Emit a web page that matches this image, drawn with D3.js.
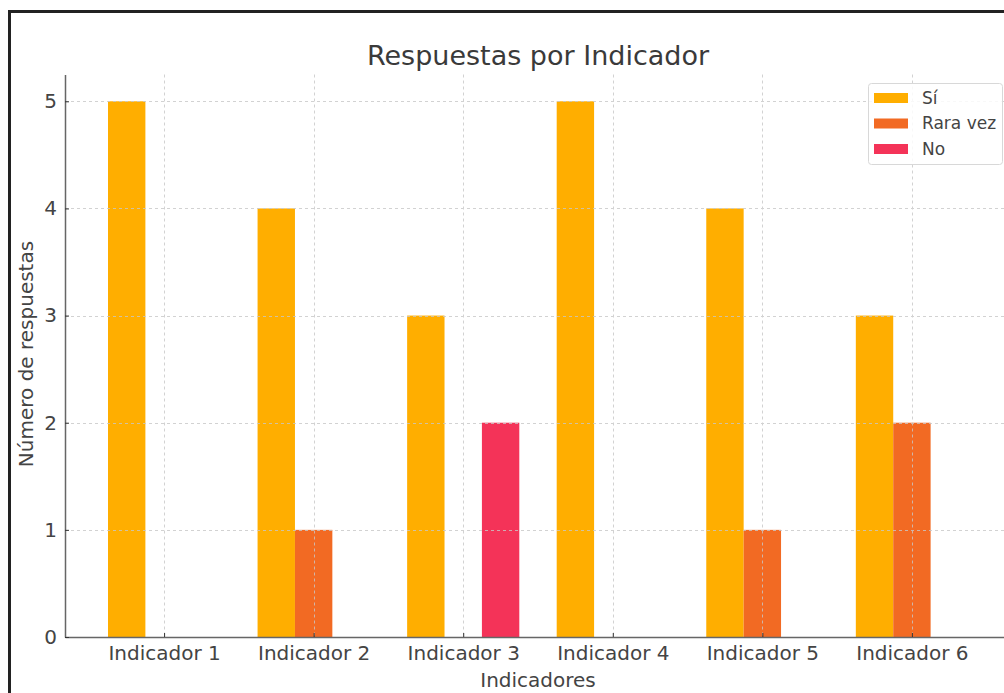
<!DOCTYPE html>
<html>
<head>
<meta charset="utf-8">
<script src="https://cdn.jsdelivr.net/npm/d3@7"></script>
<style>
  html, body { margin: 0; padding: 0; background: #fff; }
  svg { display: block; font-family: "DejaVu Sans", sans-serif; }
</style>
</head>
<body>
<svg id="chart" width="1004" height="693"></svg>
<script>
const categories = ["Indicador 1", "Indicador 2", "Indicador 3", "Indicador 4", "Indicador 5", "Indicador 6"];
const seriesNames = ["Sí", "Rara vez", "No"];
const siValues = [5, 4, 3, 5, 4, 3];
const raraVezValues = [0, 1, 0, 0, 1, 2];
const noValues = [0, 0, 2, 0, 0, 0];
const yTicks = [0, 1, 2, 3, 4, 5];
const seriesColors = ["#FFAE00", "#F26A23", "#F43358"];

(function () {
const series = [siValues, raraVezValues, noValues].map((vals, s) => ({
  name: seriesNames[s], color: seriesColors[s], offset: (s - 1) * 0.25,
  values: vals
}));

const svg = d3.select("#chart");
const W = 1004, H = 693;

svg.append("rect").attr("width", W).attr("height", H).attr("fill", "#fff");
// outer frame of the screenshot
svg.append("rect").attr("x", 9.5).attr("y", 11.5).attr("width", 1100).attr("height", 800)
  .attr("fill", "none").attr("stroke", "#222").attr("stroke-width", 3);

const pLeft = 65, pRight = 1011, pTop = 74.5, pBottom = 637;
const x = d3.scaleLinear().domain([-0.6625, 5.6625]).range([pLeft, pRight]);
const y = d3.scaleLinear().domain([0, 5.25]).range([pBottom, pTop]);
const barW = 0.25;

// bars
series.forEach(s => {
  svg.append("g").selectAll("rect").data(s.values).join("rect")
    .attr("x", (d, i) => x(i + s.offset - barW / 2))
    .attr("width", (d, i) => x(i + s.offset + barW / 2) - x(i + s.offset - barW / 2))
    .attr("y", d => y(d))
    .attr("height", d => y(0) - y(d))
    .attr("fill", s.color);
});

// grid
const grid = svg.append("g").attr("stroke", "#c8c8c8").attr("stroke-width", 1)
  .attr("stroke-dasharray", "3,3").attr("opacity", 0.8);
grid.selectAll("line.h").data(yTicks).join("line").attr("class", "h")
  .attr("x1", pLeft).attr("x2", pRight).attr("y1", d => Math.round(y(d)) + 0.5).attr("y2", d => Math.round(y(d)) + 0.5);
grid.selectAll("line.v").data(categories).join("line").attr("class", "v")
  .attr("x1", (d, i) => Math.round(x(i)) + 0.5).attr("x2", (d, i) => Math.round(x(i)) + 0.5)
  .attr("y1", pTop).attr("y2", pBottom);

// axes
const xAxis = d3.axisBottom(x).tickValues(d3.range(categories.length))
  .tickFormat(i => categories[i]).tickSizeInner(-4).tickSizeOuter(0).tickPadding(9);
const gx = svg.append("g").attr("transform", `translate(0,${pBottom})`).call(xAxis);
gx.select(".domain").attr("stroke", "#666").attr("stroke-width", 1.5);
gx.selectAll(".tick line").attr("stroke", "#333");
gx.selectAll(".tick text").attr("font-size", 20).attr("fill", "#444")
  .attr("font-family", "DejaVu Sans");

const yAxis = d3.axisLeft(y).tickValues(yTicks).tickFormat(d3.format("d"))
  .tickSizeInner(-4).tickSizeOuter(0).tickPadding(8);
const gy = svg.append("g").attr("transform", `translate(${pLeft},0)`).call(yAxis);
gy.select(".domain").attr("stroke", "#666").attr("stroke-width", 1.5);
gy.selectAll(".tick line").attr("stroke", "#333");
gy.selectAll(".tick text").attr("font-size", 20).attr("fill", "#444")
  .attr("font-family", "DejaVu Sans");

// title and labels
svg.append("text").attr("x", 538).attr("y", 65).attr("text-anchor", "middle")
  .attr("font-size", 27).attr("fill", "#3a3a3a").text("Respuestas por Indicador");
svg.append("text").attr("x", 538).attr("y", 687).attr("text-anchor", "middle")
  .attr("font-size", 20).attr("fill", "#444").text("Indicadores");
svg.append("text").attr("transform", "translate(33,354) rotate(-90)").attr("text-anchor", "middle")
  .attr("font-size", 20).attr("fill", "#444").text("Número de respuestas");

// legend
const lg = svg.append("g");
lg.append("rect").attr("x", 868.5).attr("y", 83.5).attr("width", 134).attr("height", 81).attr("rx", 3)
  .attr("fill", "#fff").attr("fill-opacity", 0.85).attr("stroke", "#d8d8d8");
const items = lg.selectAll("g.item").data(series).join("g").attr("class", "item")
  .attr("transform", (d, i) => `translate(874,${98 + i * 25.5})`);
items.append("rect").attr("x", 0).attr("y", -5).attr("width", 34).attr("height", 10).attr("fill", d => d.color);
items.append("text").attr("x", 48).attr("y", 0).attr("dy", "0.35em")
  .attr("font-size", 17).attr("fill", "#444").text(d => d.name);
})();
</script>
</body>
</html>
